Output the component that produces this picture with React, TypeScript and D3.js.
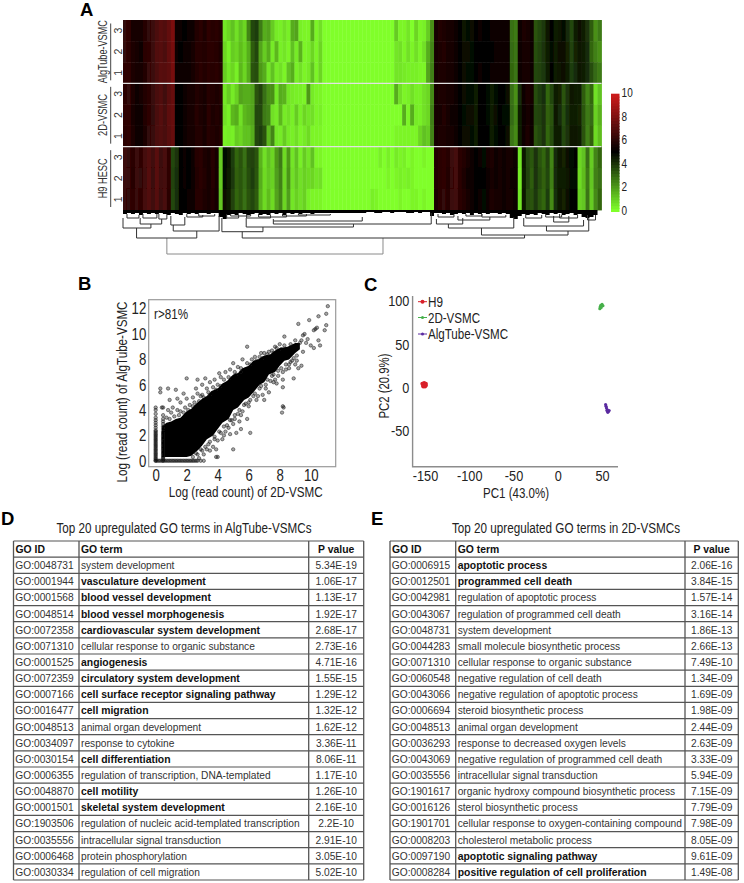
import { useEffect, useRef } from "react"
import * as d3 from "d3"

const algTube3 = [
  6.2,6.1,5.6,5.5,5.5,5.9,6.2,6.4,6.8,7.1,6.9,7.3,
  7.9,5.3,5.2,5.1,5.3,5.4,5.8,6.0,5.7,6.1,5.9,6.0,5.8,
  .5,.8,1.2,.6,1.2,.8,2.4,3.6,3.8,2.6,1.6,1.8,1,.4,.3,.6,.3,1.6,1.8,.3,.2,.2,1.6,.2,.6,
  0,0,0,0,0,0,0,0,0,0,0,0,0,0,0,0,0,0,
  1,.2,.2,.5,0,.8,.2,.3,1,2.2,
  5.6,5.8,5.7,5.5,5.6,5.3,4.9,4.6,4.8,4.7,5,5.2,5,5.1,5.2,5.3,5.2,5.4,5.2,
  2.8,2.6,
  5.3,5.7,5.6,5.4,
  3.4,3.6,3.9,4.6,4.9,4.4,4.6,4.8,4.2,3.6,4.4,4.7,4.4,4,3.2,2.2,2.6,
]
const algTube2 = [
  6.2,6,5.7,5.5,5.4,6,6.1,6.4,6.9,7,6.8,7.3,
  7.8,5.2,5.1,5.2,5.3,5.5,5.9,5.9,5.8,6.0,6.0,5.9,5.7,
  .8,.3,1,.8,1.3,.9,1.6,3.2,3.6,1.8,1,1.6,.4,1.4,.3,.5,.2,1.2,.4,1.5,.2,.3,.8,.2,.8,
  0,0,0,0,0,0,0,0,0,0,0,0,0,0,0,0,0,0,
  .5,.6,.2,.6,.2,.6,.2,.6,1.6,2.4,
  5.6,5.7,5.8,5.5,5.5,5.2,4.9,4.7,4.7,4.8,5,5.1,5.1,5,5.1,5.3,5.2,5.3,5.2,
  2.9,2.7,
  5.2,5.6,5.6,5.3,
  3.5,3.7,4,4.5,4.8,4.5,4.7,4.7,4.3,3.7,4.3,4.6,4.5,4.2,3,2.5,2.2,
]
const algTube1 = [
  6.1,6.1,5.7,5.5,5.5,5.8,6.3,6.4,6.8,7.1,7,7.2,
  7.8,5.3,5.2,5.2,5.2,5.5,5.8,6,5.8,6,5.9,6,5.8,
  1,.5,.8,.3,1.4,.8,1.6,3.4,3.5,2,1.6,.5,1.2,.4,.6,.2,1.2,1.6,.3,.6,.2,.4,1.2,.2,.8,
  0,0,0,0,0,0,0,0,0,0,0,0,0,0,0,0,0,0,
  .5,.5,.4,.3,.3,.3,.2,.2,1.8,2.5,
  5.5,5.7,5.7,5.6,5.5,5.3,4.9,4.7,4.8,4.8,4.9,5.2,5.1,5.1,5.2,5.2,5.3,5.3,5.2,
  3,2.7,
  5.3,5.6,5.5,5.4,
  3.6,3.7,3.9,4.5,4.9,4.5,4.6,4.7,4.4,3.8,4.2,4.6,4.5,4.2,3.5,2.9,2.6,
]
const twoD3 = [
  6,6.2,5.7,5.3,5.5,5.8,6,6.3,6.7,6.9,6.5,7.1,
  7.4,5,5.1,5.3,5.6,5.5,5.8,5.7,5.6,5.9,5.8,5.7,5.8,
  .5,1,.4,.9,1.8,1.6,1.6,1.8,3.4,3.7,2.8,2.2,2.2,.5,1.6,1.5,.5,.4,.3,.3,.2,2,.4,.2,.2,
  0,0,0,0,0,0,0,0,0,0,0,0,0,0,0,0,0,0,
  1.6,.6,.2,.3,.6,.3,.3,.6,.8,2.3,
  5.5,5.7,5.7,5.5,5.6,5.3,5,4.7,4.8,4.8,4.4,4.9,5,4.8,4.4,4.8,5.1,4.9,4.7,
  2.8,2.2,
  4.2,5.4,5.7,5.5,
  3.5,3.8,4.1,3,3.6,4.5,4.3,3.4,4,4.6,4.5,4.4,3.2,2.4,3,.6,1.2,
]
const twoD2 = [
  6.1,6.1,5.6,5.4,5.4,5.8,6.1,6.2,6.7,7,6.6,7.2,
  7.4,5.1,5,5.2,5.5,5.6,5.9,5.7,5.5,6,5.7,5.8,5.7,
  .6,.3,1.4,1.6,.6,1.4,1.6,1.8,3.6,3.6,2.6,2.4,.6,.4,1.4,.4,.6,.3,1,.3,.8,.5,.6,.2,.3,
  0,0,0,0,0,0,0,0,0,0,0,0,0,0,0,0,0,0,
  0,0,1.6,.2,1.6,.4,.3,.6,.8,2.5,
  5.6,5.6,5.8,5.6,5.4,5.3,5.1,4.8,4.7,4.7,4.5,5,5.1,4.8,4.5,4.7,5,4.8,4.8,
  2.9,2.4,
  4.4,5.3,5.6,5.4,
  3.6,3.7,4,3.1,3.4,4.6,4.2,3.5,4.1,4.5,4.4,4.3,3.3,2.6,2.9,.9,1.5,
]
const twoD1 = [
  6,6.1,5.7,5.4,5.3,5.7,6.2,6.3,6.8,6.9,6.7,7.1,
  7.4,5,5.1,5.3,5.5,5.5,5.8,5.8,5.6,5.9,5.8,5.7,5.8,
  .3,.4,.3,1,.8,1.2,1.2,1.6,3.6,3.8,3.4,1.4,2.4,.5,.4,1,.4,.3,.6,.2,.4,.7,.2,.2,.2,
  0,0,0,0,0,0,0,0,0,0,0,0,0,0,0,0,0,0,
  .2,.2,.2,.2,.2,.2,.8,1.2,1,2.4,
  5.6,5.7,5.7,5.5,5.5,5.4,5,4.7,4.7,4.8,4.5,4.9,5.1,4.9,4.4,4.8,5.1,4.9,4.7,
  2.7,2.3,
  4.5,5.4,5.7,5.4,
  3.4,3.6,4,3,3.5,4.5,4.4,3.6,4,4.6,4.6,4.4,3.4,2.5,3.1,.7,1.3,
]
const h9Hesc3 = [
  6.4,6.2,6,6.4,6.1,6.6,6.9,6.5,7.1,6.4,6.7,6.1,
  3.6,4,5,5.2,5.1,5.3,5.9,6,5.7,5.6,5.9,5.5,1,
  4.8,4.6,3.8,3,3.4,2.8,3.6,3.7,3.4,1.5,.6,1.2,.8,2,2.6,.7,2,.5,1.2,.3,1,.5,1.2,.2,.2,
  0,0,0,0,0,0,0,0,0,0,0,0,0,0,.3,0,.3,0,
  .4,.2,.3,0,.2,0,0,.2,0,0,
  5.8,6,6.1,5.9,6.4,6.6,6,5.8,5.5,5.3,5,5.2,4.8,5.5,5.7,5.4,5.5,5.3,5.6,5.5,5.2,
  .5,
  4.6,3.6,3.3,4,3.4,3,3.7,2.4,4.2,4.6,4.3,4.7,4.8,4.9,
  .8,1.2,2.8,1,2.4,3,
]
const h9Hesc2 = [
  6.4,6.3,5.9,6.4,6.2,6.5,7,6.4,7.1,6.5,6.6,6.1,
  3.7,4.1,5,5.2,5.1,5.3,5.8,6,5.8,5.5,5.9,5.6,1,
  4.8,4.5,3.9,3.1,3.3,2.9,3.5,3.8,3.3,1.6,.7,1.1,.9,1.9,2.5,.8,2.1,.6,1.1,.6,.9,.7,.8,.5,.6,
  0,0,0,0,0,0,0,0,0,0,0,0,0,0,0,0,.2,0,
  .2,.3,.2,.3,.2,0,0,0,0,0,
  5.8,6,6.1,5.8,6.3,6.6,6,5.7,5.4,5.3,5,5.1,4.9,5.4,5.6,5.4,5.5,5.4,5.5,5.4,5.2,
  .4,
  4.5,3.7,3.2,4,3.5,3.1,3.6,2.5,4.2,4.5,4.4,4.6,4.8,4.8,
  .7,1.3,2.6,1.1,2.5,2.8,
]
const h9Hesc1 = [
  6.3,6.2,6.1,6.3,6.1,6.6,6.9,6.5,7,6.4,6.7,6,
  3.6,4.1,4.9,5.1,5.2,5.2,5.9,5.9,5.7,5.6,5.8,5.5,1.1,
  4.7,4.5,3.7,3,3.3,2.8,3.4,3.6,3.2,1.5,.7,1.3,.7,1.8,2.4,.8,1.9,.5,.9,.6,.9,.3,.2,.2,.2,
  0,0,0,0,0,0,0,0,0,0,0,0,.3,.2,0,0,0,0,
  0,.2,0,0,.2,.2,0,.2,0,0,
  5.7,6,6.2,5.9,6.4,6.5,6,5.8,5.5,5.3,5.1,5.2,4.8,5.4,5.7,5.5,5.5,5.3,5.5,5.5,5.2,
  .5,
  4.6,3.5,3.4,3.9,3.3,3,3.8,2.3,4.1,4.6,4.3,4.7,4.9,4.9,
  .9,1.1,2.7,1,2.3,3,
]
const heatRows = [algTube3, algTube2, algTube1, twoD3, twoD2, twoD1, h9Hesc3, h9Hesc2, h9Hesc1]
const heatGroups = ["AlgTube-VSMC", "2D-VSMC", "H9 HESC"]
const heatGroupWidths = [63, 42, 40]
const replicates = ["3", "2", "1"]
const heatTicks = [0, 2, 4, 6, 8, 10]

// dendrogram: [left column, right column, depth, left leg depth, right leg depth]
const dendroMerges = [
  [11, 65.2, 44, 28, 28], [3.4, 18.5, 28, 18, 21], [0, 7, 18, 8, 14], [4.3, 9.7, 14, 8, 9],
  [12.6, 24.1, 21, 15, 6], [12, 15.5, 15, 6, 7], [24.8, 35.1, 21.7, 8, 17], [29.9, 100.7, 28, 21.7, 25],
  [30.9, 57.8, 17, 8, 14], [37.7, 77.3, 14, 11, 3], [37.7, 60, 11, 9, 7], [89.9, 111.6, 25, 18, 21],
  [81.6, 98, 18, 14, 7], [78.6, 85.2, 14, 9, 8], [106.2, 116.8, 21, 16, 8], [100.5, 115.5, 16, 8, 10],
  [108, 111.8, 12, 6, 6], [84, 92, 10, 6, 7], [90, 96, 7, 4, 5], [1, 4, 8, 4, 5], [5, 8.5, 8, 4, 4],
  [9, 11, 9, 4, 4], [16, 20, 7, 4, 5], [19, 23, 6, 4, 4], [26, 29, 8, 4, 5], [27, 32, 6, 4, 4],
  [31, 37, 8, 4, 5], [34, 41, 7, 4, 5], [40, 46, 6, 4, 4], [44, 52, 5, 4, 4], [101, 105, 8, 4, 5],
  [106, 110, 7, 4, 5], [109.5, 114, 8, 4, 5], [79, 83, 7, 4, 4], [86, 90, 6, 4, 4], [116.5, 118.5, 10, 5, 5],
]
const dendroDense = [
  4,3,4,3,5,3,4,3,4,3,4,5,3,4,5,3,4,3,4,3,3,4,3,3,7,
  9,5,4,5,3,4,5,4,3,5,4,5,3,4,3,5,3,4,3,4,3,3,4,3,3,
  3,3,3,3,3,3,3,3,3,3,3,2,2,3,3,2,2,3,2,2,2,3,3,2,3,2,2,6,
  3,3,4,3,5,4,3,4,3,5,3,4,3,4,3,3,4,3,4,8,9,
  6,4,5,4,5,3,4,5,3,4,3,5,4,3,5,4,7,8,7,5,3,
]

// ---- scatter (B)
const cloudUpper = [[.4,2.7],[.7,3],[1,3.1],[1.3,3.3],[1.6,3.4],[2,3.9],[2.3,4.1],[2.6,4.5],[3,4.9],[3.3,5.1],[3.6,5.5],[4,5.7],[4.3,6.1],[4.6,6.3],[5,6.8],[5.3,6.9],[5.6,7.3],[6,7.5],[6.3,7.9],[6.6,8],[7,8.3],[7.4,8.4],[7.7,8.7],[8,8.9],[8.5,9],[9,9.3],[9.3,9.3]]
const cloudLower = [[9.3,8.8],[9,8.5],[8.6,8],[8.3,7.9],[8,7.5],[7.7,7],[7.3,6.8],[7,6.2],[6.7,6],[6.3,5.4],[6,5],[5.7,4.8],[5.3,4.2],[5,4],[4.7,3.3],[4.3,3],[4,2.5],[3.7,2],[3.3,1.7],[3,1.2],[2.7,.8],[2.3,.4],[2,.3],[.4,.3]]
const stackX0 = [0,.1,.2,.3,.4,.5,.6,.7,.8,.9,1,1.1,1.2,1.3,1.4,1.5,1.6,1.7,1.8,1.9,2,2.1,2.2,2.3,2.4,2.6,2.8,3,3.2,3.4,3.7,4,4.2]
const stackX1 = [0,.1,.2,.3,.4,.5,.6,.7,.8,.9,1,1.1,1.2,1.3,1.4,1.5,1.6,1.7,1.8,1.9,2,2.1,2.2,2.3,2.5,2.7,2.9,3.1,3.3,3.6,4.2]
const stackY0 = [0,.1,.2,.3,.4,.5,.6,.7,.8,.9,1,1.1,1.2,1.3,1.4,1.5,1.6,1.7,1.8,1.9,2,2.1,2.2,2.3,2.4,2.5,2.6,2.7,2.9,3.1]
const outliers = [
  [11.1,12.2],[11,11.6],[10.5,11.4],[9.9,11.1],[9.2,10.8],[11,10.7],[10.4,10.5],[10.3,10.4],[10.9,10.3],[10.2,10.3],[9.6,10],[9.5,9.9],[9.8,9.6],[10.5,9.5],[10.6,9.1],[10.2,8.9],[10,9.1],[9.7,9.3],[9.4,9.5],[8.3,9.8],[8,9.2],[7.7,9],[5.9,9],
  [9.5,8.6],[9.1,7.9],[9.4,7.5],[9.2,7.3],[8.9,6.5],[8.2,7],[8.6,7.6],[8.8,7.9],[8.2,5.8],[8.2,4.3],[8.25,4.2],[8.15,3.8],[7.1,5.7],[7.6,6.2],[7.9,6.7],[7.4,6.3],[6.1,2.2],[5.5,2.5],[5,.9],[3.9,.3],[4,.3],
  [2,6.5],[.3,5.7],[.3,5.4],[.8,5.7],[1.3,5.6],[.9,4.8],[1.4,4.9],[.4,4.2],[5,7.7],[4.8,7.2],[4.1,6.9],[3.2,6.5],[2.7,6.4],[3.5,6.2],[2.6,5.7],[2.7,5.3],[1.8,5.3],[6.4,8.2],[6.8,8.5],[7.3,8.6],[7.5,8.7],[5.6,8],[5.3,7.4],[4.5,7],[4.2,6.6],[3.8,6.4],[3,6],[3.3,5.7],[2.9,5.1],[2.4,5],[2,4.9],[1.6,4.6],[1.1,4.2],[.8,4],[1.4,4],[1.9,4.2],[2.2,4.4],[2.5,4.6],[3,5.2],[3.4,5.4],[3.7,5.8],[4,6],[4.4,6.4],[4.7,6.6],[5.1,7],[5.5,7.3],[5.9,7.7],[6.2,8],[6.7,8.2],[7,8.5],[7.8,8.9],[8.3,9.1],[8.7,9.2],[9,9.5],[9.3,9.3],
  [.9,3.3],[1.2,3.5],[1.5,3.6],[1.8,3.8],[2.1,4],[.7,3.4],[1,3.8],[1.6,3.9],[2.4,4.3],[2.8,4.7],[3.1,5],[3.5,5.2],[3.9,5.6],[4.2,5.9],[4.6,6.1],[4.9,6.5],[5.2,6.8],[5.5,7],[5.8,7.2],[6.1,7.6],[6.5,7.9],[6.9,8.1],[7.2,8.4],[7.6,8.5],[8.1,8.8],
  [8.9,8.1],[8.4,7.6],[7.9,7.1],[7.5,6.7],[7.1,6],[6.7,5.7],[6.3,5.1],[6,4.6],[5.7,4.4],[5.3,3.7],[4.9,3.2],[4.6,2.8],[4.2,2.2],[3.8,1.7],[3.4,1.3],[3,.8],[2.7,.5],[6.6,5.1],[6,4.3],[5.6,3.9],[5.9,3.3],[5.4,3.1],[5,2.9],[5.2,2.2],[4.8,2.1],[4.5,2.3],[4.3,1.7],[4,1.6],[3.7,1.1],[3.5,.8],[3.9,.9],[8.6,7.3],[9,7.6],[8.2,6.4],[7.8,6.1],[7.3,5.4],[6.9,5.2],[7,4.8],
  [9.1,8.3],[8.7,7.8],[8.1,7.3],[7.6,6.8],[7.2,6.4],[6.8,5.9],[6.4,5.3],[6.1,4.8],[5.8,4.5],[5.4,4],[5.1,3.6],[4.8,3.2],[4.4,2.7],[4.1,2.3],[3.8,1.9],[3.5,1.5],[3.2,1.1],[2.9,.9],[2.6,.6],[2.4,.3],[2.8,.2],[3.1,.5],[3.3,.9],[6.5,4.8],[5.5,3.6],[5.1,3.3],[4.7,2.6],[4.4,2],[8.4,7.2],[7.7,6.4],
]

// ---- PCA (C)
const pcaGroups = ["H9", "2D-VSMC", "AlgTube-VSMC"]
const pcaColors = ["#d8202a", "#46b04a", "#5a2aa0"]
const pcaLegendWidths = [15, 52, 80]
const h9Pc = [[-152,2],[-150,4],[-151,5],[-149,2],[-153,4],[-150,1],[-152,1],[-149,4]]
const twoDPc = [[47.5,91],[47.8,93],[48.5,95],[50,96],[51,94.5],[49,92.5]]
const algPc = [[54,-20],[54.5,-22],[55,-24],[56,-26],[57,-28],[58,-27],[56.5,-29],[55.5,-27]]
const pcaPoints = [h9Pc, twoDPc, algPc]

// ---- GO tables
const tableHeader = ["GO ID", "GO term", "P value"]
const algIds = ["GO:0048731","GO:0001944","GO:0001568","GO:0048514","GO:0072358","GO:0071310","GO:0001525","GO:0072359","GO:0007166","GO:0016477","GO:0048513","GO:0034097","GO:0030154","GO:0006355","GO:0048870","GO:0001501","GO:1903506","GO:0035556","GO:0006468","GO:0030334"]
const algTerms = ["system development","vasculature development","blood vessel development","blood vessel morphogenesis","cardiovascular system development","cellular response to organic substance","angiogenesis","circulatory system development","cell surface receptor signaling pathway","cell migration","animal organ development","response to cytokine","cell differentiation","regulation of transcription, DNA-templated","cell motility","skeletal system development","regulation of nucleic acid-templated transcription","intracellular signal transduction","protein phosphorylation","regulation of cell migration"]
const algP = ["5.34E-19","1.06E-17","1.13E-17","1.92E-17","2.68E-17","2.73E-16","4.71E-16","1.55E-15","1.29E-12","1.32E-12","1.62E-12","3.36E-11","8.06E-11","1.17E-10","1.26E-10","2.16E-10","2.2E-10","2.91E-10","3.05E-10","5.02E-10"]
const algBold = [1,2,3,4,6,7,8,9,12,14,15]
const twoDIds = ["GO:0006915","GO:0012501","GO:0042981","GO:0043067","GO:0048731","GO:0044283","GO:0071310","GO:0060548","GO:0043066","GO:0006694","GO:0048513","GO:0036293","GO:0043069","GO:0035556","GO:1901617","GO:0016126","GO:1901701","GO:0008203","GO:0097190","GO:0008284"]
const twoDTerms = ["apoptotic process","programmed cell death","regulation of apoptotic process","regulation of programmed cell death","system development","small molecule biosynthetic process","cellular response to organic substance","negative regulation of cell death","negative regulation of apoptotic process","steroid biosynthetic process","animal organ development","response to decreased oxygen levels","negative regulation of programmed cell death","intracellular signal transduction","organic hydroxy compound biosynthetic process","sterol biosynthetic process","cellular response to oxygen-containing compound","cholesterol metabolic process","apoptotic signaling pathway","positive regulation of cell proliferation"]
const twoDP = ["2.06E-16","3.84E-15","1.57E-14","3.16E-14","1.86E-13","2.66E-13","7.49E-10","1.34E-09","1.69E-09","1.98E-09","2.44E-09","2.63E-09","3.33E-09","5.94E-09","7.15E-09","7.79E-09","7.98E-09","8.05E-09","9.61E-09","1.49E-08"]
const twoDBold = [0,1,18,19]

const SANS = '"Liberation Sans", Arial, sans-serif'

const heatColor = d3.scaleLinear<string>().domain([0, 5, 10]).range(["#80ff2a", "#000000", "#d41c1c"]).clamp(true)

// table drawn from its own column arrays
const GoTable = ({ x, title, titleX, titleW, ids, terms, ps, bold }: any) => {
  const rowY = d3.scaleBand<number>().domain(d3.range(21)).range([541, 880])
  const [x0, x1, x2, x3] = x
  const h = rowY.bandwidth()
  const dark = "#555"
  return (
    <g fontFamily={SANS} fontSize={10.2}>
      <text x={titleX} y={533} textAnchor="middle" fontSize={14} fill="#222" textLength={titleW} lengthAdjust="spacingAndGlyphs">{title}</text>
      {d3.range(22).map((i) => (
        <line key={i} x1={x0} x2={x3} y1={541 + i * h} y2={541 + i * h} stroke={dark} strokeWidth={1.2} />
      ))}
      {[x0, x1, x2, x3].map((v: number) => (
        <line key={v} x1={v} x2={v} y1={541} y2={880} stroke={dark} strokeWidth={1.3} />
      ))}
      <g fontWeight="bold" fill="#111" fontSize={10.4}>
        <text x={x0 + 2} y={rowY(0)! + 12}>{tableHeader[0]}</text>
        <text x={x1 + 2} y={rowY(0)! + 12}>{tableHeader[1]}</text>
        <text x={(x2 + x3) / 2} y={rowY(0)! + 12} textAnchor="middle">{tableHeader[2]}</text>
      </g>
      {ids.map((id: string, i: number) => (
        <g key={id} fill="#333">
          <text x={x0 + 1.8} y={rowY(i + 1)! + 12}>{id}</text>
          <text x={x1 + 2} y={rowY(i + 1)! + 12} fontSize={bold.includes(i) ? 10.4 : 10.2} fontWeight={bold.includes(i) ? "bold" : "normal"} fill={bold.includes(i) ? "#111" : "#333"}>{terms[i]}</text>
          <text x={(x2 + x3) / 2} y={rowY(i + 1)! + 12} textAnchor="middle">{ps[i]}</text>
        </g>
      ))}
    </g>
  )
}

export default function App() {
  const legendAxis = useRef<SVGGElement | null>(null)
  const bLeft = useRef<SVGGElement | null>(null)
  const bBottom = useRef<SVGGElement | null>(null)
  const cLeft = useRef<SVGGElement | null>(null)
  const cBottom = useRef<SVGGElement | null>(null)

  // heatmap scales
  const colX = d3.scaleBand<number>().domain(d3.range(120)).range([123, 601.5])
  const rowY = d3.scaleBand<number>().domain(d3.range(9)).range([20, 210])
  const colPos = d3.scaleLinear().domain([0, 120]).range([123, 601.5])
  const depth = d3.scaleLinear().domain([0, 44]).range([210, 254])
  const legendY = d3.scaleLinear().domain([0, 10]).range([210, 92.7])

  // scatter scales
  const bX = d3.scaleLinear().domain([-0.45, 11.61]).range([148.7, 335.7])
  const bY = d3.scaleLinear().domain([-0.47, 12.71]).range([466.7, 299.7])
  const cX = d3.scaleLinear().domain([-164, 68]).range([412.6, 618])
  const cY = d3.scaleLinear().domain([-92, 100]).range([466.7, 301])

  const cloud = d3.line().x((d) => bX(d[0])).y((d) => bY(d[1]))([...cloudUpper, ...cloudLower] as [number, number][])
  const dense = d3.area<number>()
    .x((_, i) => colPos(i))
    .y0(depth(0))
    .y1((d) => depth(d))
    .curve(d3.curveStepAfter)(dendroDense)

  const scatterPts = [
    ...outliers,
    ...stackX0.map((y) => [0, y]),
    ...stackX1.map((y) => [0.48, y]),
    ...stackY0.map((x) => [x, 0]),
  ]

  useEffect(() => {
    // the original labels are condensed, and no narrow face is installed
    const style = (sel: any, size: number, squeeze: number) => {
      sel.select(".domain").remove()
      sel.selectAll("text")
        .attr("font-family", SANS)
        .attr("font-size", size)
        .attr("fill", "#222")
        .attr("transform", `scale(${squeeze},1)`)
    }
    const label = (d: any) => String(d)
    d3.select(legendAxis.current!).call(d3.axisRight(legendY).tickValues(heatTicks).tickFormat(label).tickSize(0).tickPadding(2) as any).call(style, 12.5, 0.8)
    d3.select(bLeft.current!).call(d3.axisLeft(bY).tickValues([0, 2, 4, 6, 8, 10, 12]).tickFormat(label).tickSize(0).tickPadding(3) as any).call(style, 16.5, 0.8)
    d3.select(bBottom.current!).call(d3.axisBottom(bX).tickValues([0, 2, 4, 6, 8, 10]).tickFormat(label).tickSize(0).tickPadding(3) as any).call(style, 16.5, 0.8)
    d3.select(cLeft.current!).call(d3.axisLeft(cY).tickValues([-50, 0, 50, 100]).tickFormat(label).tickSize(0).tickPadding(4) as any).call(style, 15.5, 0.82)
    d3.select(cBottom.current!).call(d3.axisBottom(cX).tickValues([-150, -100, -50, 0, 50]).tickFormat(label).tickSize(0).tickPadding(3) as any).call(style, 15.5, 0.82)
  }, [])

  return (
    <div style={{ position: "absolute", left: 0, top: 0 }}>
      <svg width={744} height={883} style={{ display: "block", background: "#fff" }}>
        <defs>
          <filter id="soft" x="-2%" y="-2%" width="104%" height="104%">
            <feGaussianBlur stdDeviation="0.45" />
          </filter>
        </defs>

        {/* panel letters */}
        <g fontFamily={SANS} fontWeight="bold" fontSize={18.5} fill="#000">
          <text x={80} y={15.5}>A</text>
          <text x={78} y={289.5}>B</text>
          <text x={364} y={290.5}>C</text>
          <text x={1} y={525}>D</text>
          <text x={371} y={525}>E</text>
        </g>

        {/* heatmap */}
        <g filter="url(#soft)">
          {heatRows.map((row, r) =>
            row.map((v, c) => (
              <rect key={`${r}-${c}`} x={colX(c)} y={rowY(r)} width={colX.bandwidth() + 0.4} height={rowY.bandwidth() + 0.4} fill={heatColor(v)} />
            ))
          )}
        </g>
        {[3, 6].map((r) => (
          <line key={r} x1={123} x2={601.5} y1={rowY(r)} y2={rowY(r)} stroke="#e2e2e2" strokeWidth={1.4} />
        ))}

        {/* dendrogram */}
        <path d={dense ?? ""} fill="#000" />
        <g fill="none" filter="url(#soft)">
          {dendroMerges.map(([l, r, d, dl, dr], i) => (
            <path
              key={i}
              d={`M${colPos(l)},${depth(dl)}V${depth(d)}H${colPos(r)}V${depth(dr)}`}
              stroke={i === 0 ? "#8a8a8a" : "#333"}
              strokeWidth={1}
            />
          ))}
        </g>

        {/* row labels */}
        <g fontFamily={SANS} fill="#333">
          {heatGroups.map((g, i) => {
            const top = rowY(i * 3)!
            const bottom = rowY(i * 3 + 2)! + rowY.bandwidth()
            const cy = (top + bottom) / 2
            return (
              <g key={g}>
                <line x1={110.7} x2={110.7} y1={top + 3.5} y2={bottom - 3} stroke="#444" strokeWidth={1} />
                <text transform={`translate(107,${cy}) rotate(-90)`} textAnchor="middle" fontSize={12.5} textLength={heatGroupWidths[i]} lengthAdjust="spacingAndGlyphs">{g}</text>
                {replicates.map((rep, k) => (
                  <text key={rep} transform={`translate(122,${rowY(i * 3 + k)! + rowY.bandwidth() / 2}) rotate(-90)`} textAnchor="middle" fontSize={10.5}>{rep}</text>
                ))}
              </g>
            )
          })}
        </g>

        {/* colour key */}
        {d3.range(0, 10, 0.25).map((v) => (
          <rect key={v} x={611} width={8.5} y={legendY(v + 0.25) + 1} height={legendY(v) - legendY(v + 0.25) + 1} fill={heatColor(v)} />
        ))}
        <g ref={legendAxis} transform="translate(620,0)" />

        {/* B */}
        <rect x={148.7} y={299.7} width={187} height={167} fill="none" stroke="#9a9a9a" strokeWidth={1.2} />
        <g filter="url(#soft)">
          <path d={cloud ?? ""} fill="#000" />
          {scatterPts.map(([x, y], i) => (
            <circle key={i} cx={bX(x)} cy={bY(y)} r={1.7} fill="#000" fillOpacity={0.35} stroke="#111" strokeOpacity={0.65} strokeWidth={0.7} />
          ))}
        </g>
        <g ref={bLeft} transform="translate(148.7,0)" />
        <g ref={bBottom} transform="translate(0,466.7)" />
        <g fontFamily={SANS} fill="#222">
          <text x={154} y={319} fontSize={14.5} textLength={34} lengthAdjust="spacingAndGlyphs">r&gt;81%</text>
          <text x={245.7} y={496.5} fontSize={14.5} textAnchor="middle" textLength={154} lengthAdjust="spacingAndGlyphs">Log (read count) of 2D-VSMC</text>
          <text transform="translate(127,392) rotate(-90)" fontSize={14.5} textAnchor="middle" textLength={181} lengthAdjust="spacingAndGlyphs">Log (read count) of AlgTube-VSMC</text>
        </g>

        {/* C */}
        <path d="M412.6,296V466.7H618" fill="none" stroke="#8c8c8c" strokeWidth={1.4} />
        <g ref={cLeft} transform="translate(412.6,0)" />
        <g ref={cBottom} transform="translate(0,466.7)" />
        {pcaPoints.map((pts, g) =>
          pts.map(([x, y], i) => (
            <circle key={`${g}-${i}`} cx={cX(x)} cy={cY(y)} r={g === 0 ? 2 : 1.6} fill={pcaColors[g]} />
          ))
        )}
        <g fontFamily={SANS} fontSize={14.5} fill="#222">
          {pcaGroups.map((g, i) => {
            const y = [301.7, 317.5, 334][i]
            return (
              <g key={g}>
                <line x1={418} x2={427} y1={y} y2={y} stroke={pcaColors[i]} strokeWidth={1} />
                <circle cx={422.5} cy={y} r={i === 0 ? 2 : 1.5} fill={pcaColors[i]} />
                <text x={428} y={y + 5} textLength={pcaLegendWidths[i]} lengthAdjust="spacingAndGlyphs">{g}</text>
              </g>
            )
          })}
          <text x={516} y={498} textAnchor="middle" textLength={66} lengthAdjust="spacingAndGlyphs">PC1 (43.0%)</text>
          <text transform="translate(389,386) rotate(-90)" textAnchor="middle" textLength={65} lengthAdjust="spacingAndGlyphs">PC2 (20.9%)</text>
        </g>

        {/* D, E */}
        <GoTable x={[13.5, 79, 308.7, 363.7]} title="Top 20 upregulated GO terms in AlgTube-VSMCs" titleX={184} titleW={255} ids={algIds} terms={algTerms} ps={algP} bold={algBold} />
        <GoTable x={[390, 455.7, 685, 738.3]} title="Top 20 upregulated GO terms in 2D-VSMCs" titleX={566} titleW={228} ids={twoDIds} terms={twoDTerms} ps={twoDP} bold={twoDBold} />
      </svg>
    </div>
  )
}
